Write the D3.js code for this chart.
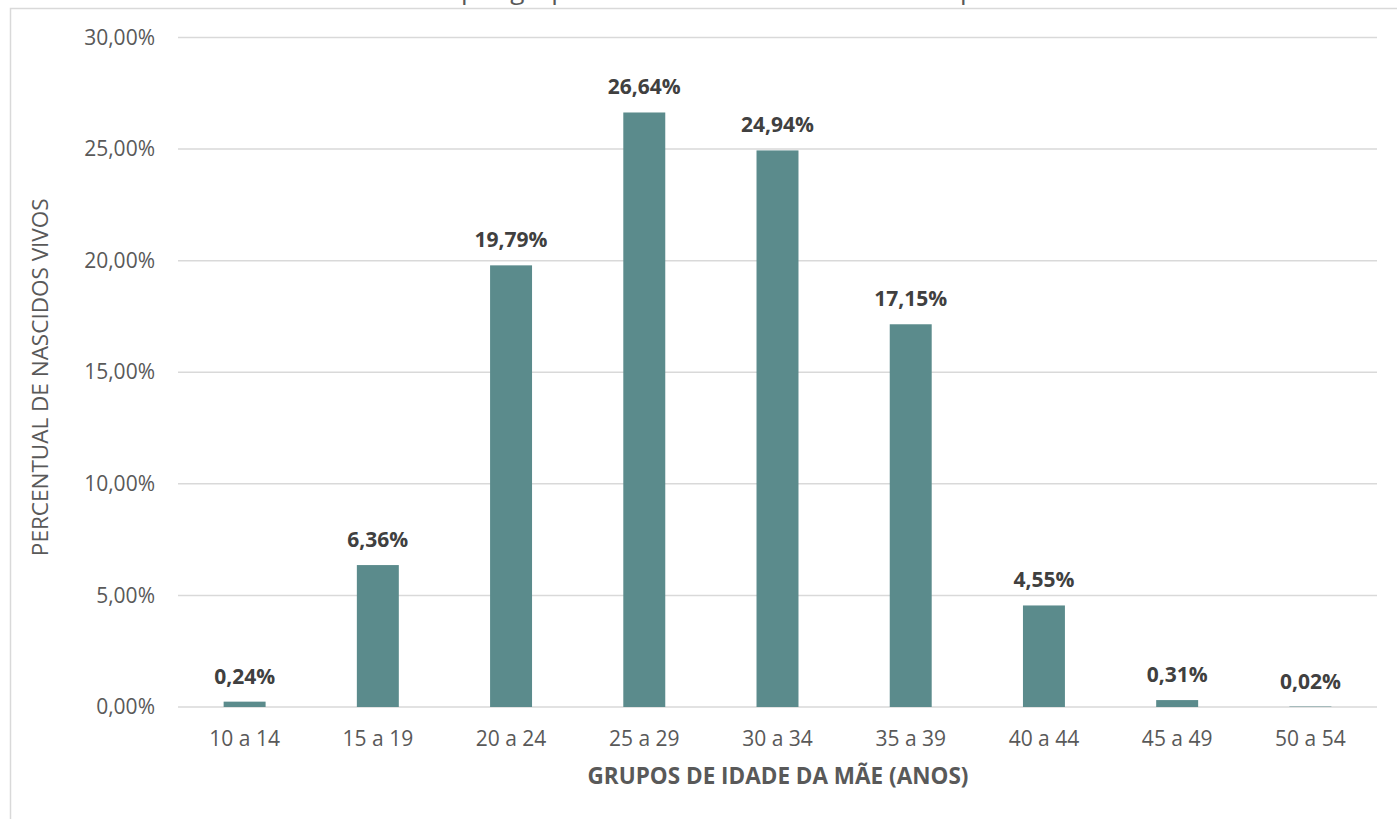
<!DOCTYPE html>
<html>
<head>
<meta charset="utf-8">
<script src="https://cdn.jsdelivr.net/npm/d3@7"></script>
<style>
  body { margin: 0; background: #fff; }
  svg { display: block; font-family: "Open Sans", sans-serif; }
</style>
</head>
<body>
<svg id="canvas"></svg>
<script>
// faixas etarias e percentuais
let categorias = ['10 a 14', '15 a 19', '20 a 24', '25 a 29', '30 a 34', '35 a 39', '40 a 44', '45 a 49', '50 a 54']
let percentuais = [0.24, 6.36, 19.79, 26.64, 24.94, 17.15, 4.55, 0.31, 0.02]
let ticksY = [0, 5, 10, 15, 20, 25, 30]

let titulo = 'Percentual de nascidos vivos por grupo de idade da mãe residente no período'
let tituloY = 'PERCENTUAL DE NASCIDOS VIVOS'
let tituloX = 'GRUPOS DE IDADE DA MÃE (ANOS)'

const width = 1397
const height = 819

let canvas = d3.select('#canvas')
canvas.attr('width', width).attr('height', height)

let fmt = (v) => v.toFixed(2).replace('.', ',') + '%'

let xScale = d3.scaleBand()
    .domain(categorias)
    .range([178, 1377])
    .paddingInner(0.685)
    .paddingOuter(0.3425)

let yScale = d3.scaleLinear()
    .domain([0, 30])
    .range([707, 37.5])

// moldura do grafico (cortada no topo da imagem)
canvas.append('rect')
    .attr('x', 10.5).attr('y', 8.5)
    .attr('width', 1420).attr('height', 830)
    .attr('fill', 'none')
    .attr('stroke', '#d9d9d9')
    .attr('stroke-width', 1.5)

// titulo quase todo fora da area visivel, como na imagem original
let t = canvas.append('text')
    .attr('y', -1)
    .attr('fill', '#595959')
    .style('font-size', '24px')
    .text(titulo)
let node = t.node()
let i1 = titulo.indexOf('por ')
let i2 = titulo.indexOf('período')
let d = node.getStartPositionOfChar(i2).x - node.getStartPositionOfChar(i1).x
t.style('font-size', (24 * 499 / d) + 'px')
t.attr('x', 461 - node.getStartPositionOfChar(i1).x)

// grade horizontal
canvas.append('g')
    .selectAll('line')
    .data(ticksY)
    .enter()
    .append('line')
    .attr('x1', 178).attr('x2', 1377)
    .attr('y1', (v) => yScale(v)).attr('y2', (v) => yScale(v))
    .attr('stroke', '#d9d9d9')
    .attr('stroke-width', 1.5)

// eixo y
let yAxis = d3.axisLeft(yScale)
    .tickValues(ticksY)
    .tickFormat(fmt)
    .tickSize(0)
    .tickPadding(23)
let gy = canvas.append('g')
    .attr('transform', 'translate(178,0)')
    .call(yAxis)
gy.select('.domain').remove()
gy.selectAll('text')
    .attr('fill', '#595959')
    .style('font-size', '21px')
    .style('font-family', '"Open Sans", sans-serif')

// barras
canvas.append('g')
    .selectAll('rect')
    .data(percentuais)
    .enter()
    .append('rect')
    .attr('x', (v, i) => xScale(categorias[i]))
    .attr('y', (v) => yScale(v))
    .attr('width', xScale.bandwidth())
    .attr('height', (v) => yScale(0) - yScale(v))
    .attr('fill', '#5b8b8c')

// rotulos de dados
canvas.append('g')
    .selectAll('text')
    .data(percentuais)
    .enter()
    .append('text')
    .attr('x', (v, i) => xScale(categorias[i]) + xScale.bandwidth() / 2)
    .attr('y', (v) => yScale(v) - 18)
    .attr('text-anchor', 'middle')
    .attr('fill', '#404040')
    .style('font-size', '21px')
    .style('font-weight', 'bold')
    .text((v) => fmt(v))

// eixo x
let xAxis = d3.axisBottom(xScale).tickSize(0).tickPadding(24)
let gx = canvas.append('g')
    .attr('transform', 'translate(0,707)')
    .call(xAxis)
gx.select('.domain').remove()
gx.selectAll('text')
    .attr('fill', '#595959')
    .style('font-size', '21px')
    .style('font-family', '"Open Sans", sans-serif')

// titulos dos eixos
canvas.append('text')
    .attr('transform', 'translate(48,' + (yScale(15) + 5) + ') rotate(-90)')
    .attr('text-anchor', 'middle')
    .attr('fill', '#595959')
    .style('font-size', '22.5px')
    .text(tituloY)

canvas.append('text')
    .attr('x', 778)
    .attr('y', 784)
    .attr('text-anchor', 'middle')
    .attr('fill', '#595959')
    .style('font-size', '22.5px')
    .style('font-weight', 'bold')
    .text(tituloX)
</script>
</body>
</html>
